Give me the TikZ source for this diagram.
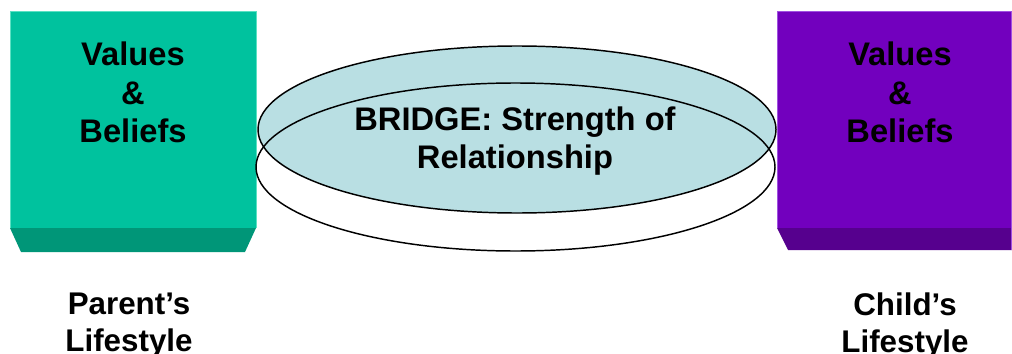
\documentclass[tikz,border=0pt]{standalone}
\usepackage{fontspec}
\setmainfont{Liberation Sans}
\definecolor{tealmain}{RGB}{0,194,158}
\definecolor{tealdark}{RGB}{0,150,120}
\definecolor{teallight}{RGB}{90,225,195}
\definecolor{purpmain}{RGB}{114,0,190}
\definecolor{purpdark}{RGB}{86,0,142}
\definecolor{purplight}{RGB}{160,80,225}
\definecolor{bridgefill}{RGB}{185,223,227}
\tikzset{
  lbl/.style={align=center, anchor=north, inner sep=0pt,
    font=\fontsize{24.5}{28.9}\selectfont\bfseries, text=black},
  lblmid/.style={lbl, font=\fontsize{24.5}{28.2}\selectfont\bfseries},
  lbllow/.style={lbl, font=\fontsize{23.5}{27.8}\selectfont\bfseries},
  ring/.style={draw=black, line width=1.1pt}
}
\begin{document}
\begin{tikzpicture}[x=0.75pt,y=-0.75pt]
\useasboundingbox (0,0) rectangle (1012,353);
\clip (0,0) rectangle (1012,353);
% left box
\fill[tealdark] (10,228) -- (256,228) -- (245,252) -- (21,252) -- cycle;
\fill[tealmain] (10,12) rectangle (256,228);
\draw[teallight, line width=0.75pt] (10,228) -- (10,12) -- (256,12) -- (256,228);
% right box
\fill[purpdark] (777,228) -- (1012,228) -- (1012,250) -- (788,250) -- cycle;
\fill[purpmain] (777,12) rectangle (1012,228);
\draw[purplight, line width=0.75pt] (777,228) -- (777,12) -- (1011,12) -- (1011,250);
% ellipses
\fill[bridgefill] (517,129.5) ellipse [x radius=259, y radius=83.5];
\draw[ring] (517,129.5) ellipse [x radius=259, y radius=83.5];
\draw[ring] (515.5,167) ellipse [x radius=259.5, y radius=84];
% texts
\node[lbl] (lvals) at (133,41.6) {Values\\\&\\Beliefs};
\node[lbl] (rvals) at (900,41.6) {Values\\\&\\Beliefs};
\node[lblmid] (bridge) at (515,106.6) {BRIDGE: Strength of\\Relationship};
\node[lbllow] (parent) at (129,292.5) {Parent’s\\Lifestyle};
\node[lbllow] (child) at (905,292.5) {Child’s\\Lifestyle};
\end{tikzpicture}
\end{document}
